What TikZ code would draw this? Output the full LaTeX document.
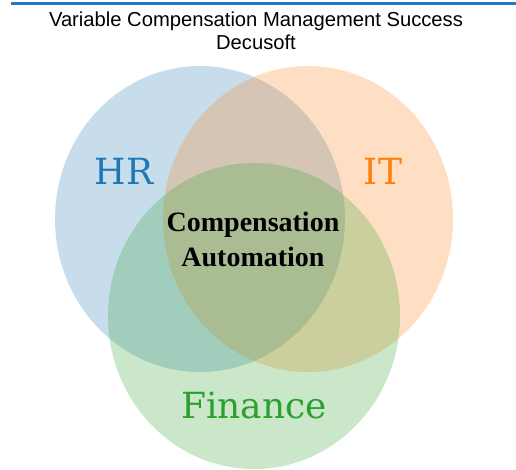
\documentclass[tikz,border=0pt]{standalone}
\usepackage{fontspec}
\usepackage{xcolor}
\usepackage{tikz}
\usetikzlibrary{shapes.geometric, positioning}

\newfontfamily\titlefont{Liberation Sans}
\newfontfamily\setfont{DejaVu Serif}
\newfontfamily\corefont{Liberation Serif}

\definecolor{hrblue}{RGB}{31,119,180}
\definecolor{itorange}{RGB}{255,127,14}
\definecolor{fingreen}{RGB}{44,160,44}
\definecolor{rulebar}{RGB}{38,120,200}

\begin{document}
\begin{tikzpicture}[x=1pt, y=-1pt]
    \tikzstyle{set} = [ellipse, minimum width=290pt, minimum height=306pt,
                       inner sep=0pt, fill opacity=0.25]
    \tikzstyle{setlabel} = [font=\setfont\fontsize{36}{40}\selectfont, inner sep=0pt]

    \useasboundingbox (0,0) rectangle (516,469);

    % top rule and heading
    \draw[rulebar, line width=2.5pt] (11,3.5) -- (516,3.5);
    \node (title) [align=center, inner sep=0pt,
                  font=\titlefont\fontsize{20.2}{22.5}\selectfont]
          at (256,31) {Variable Compensation Management Success\\Decusoft};

    % the three sets
    \node (hr)      [set, fill=hrblue]   at (200,219) {};
    \node (it)      [set, fill=itorange] at (308,219) {};
    \node (finance) [set, fill=fingreen, minimum width=292pt] at (254,316) {};

    \node (hrlabel)  [setlabel, text=hrblue]   at (124,171) {HR};
    \node (itlabel)  [setlabel, text=itorange] at (383,171) {IT};
    \node (finlabel) [setlabel, text=fingreen] at (254,406) {Finance};

    \node (core) [align=center, inner sep=0pt,
                  font=\corefont\bfseries\fontsize{28}{35}\selectfont]
          at (253,239) {Compensation\\Automation};
  \end{tikzpicture}
\end{document}
